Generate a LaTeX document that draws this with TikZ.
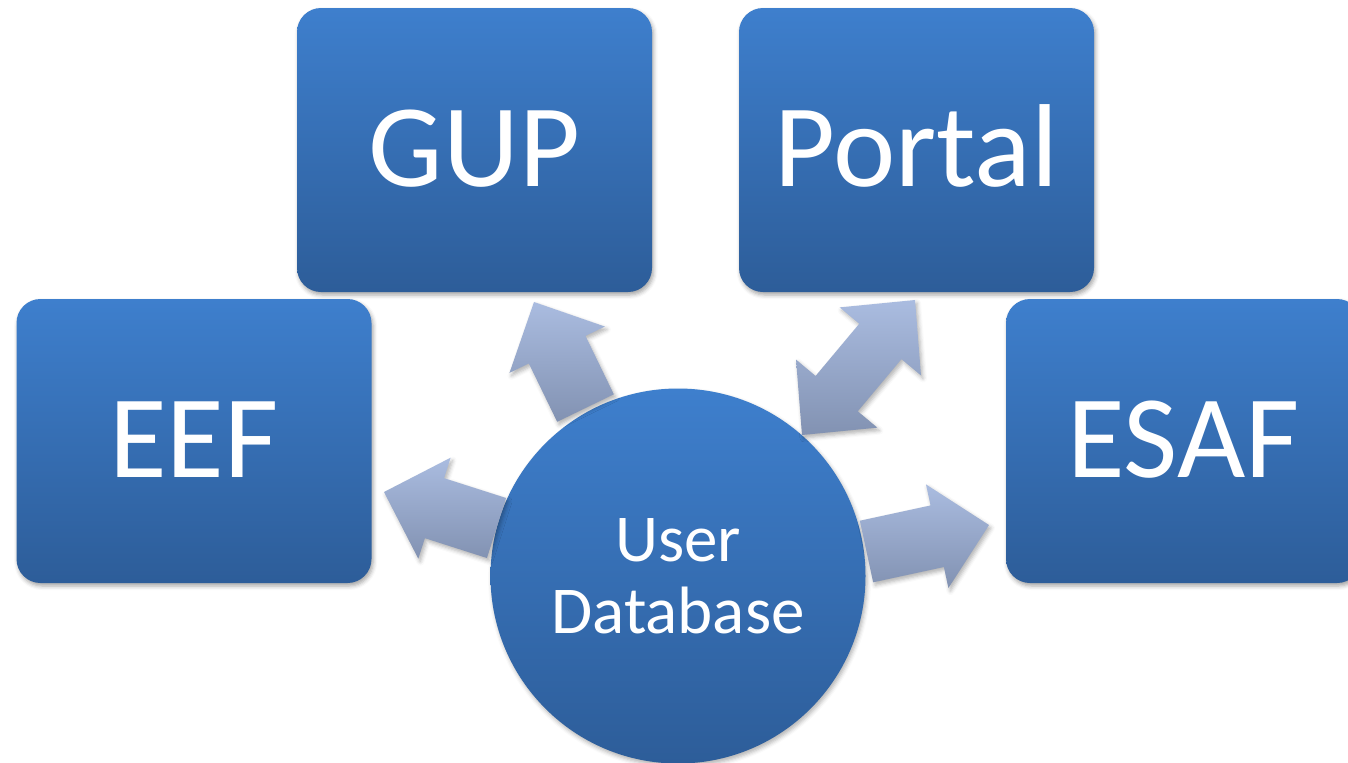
\documentclass[tikz,border=0pt]{standalone}
\usepackage{fontspec}
\setmainfont{Carlito}
\usetikzlibrary{calc,shadows.blur}
\definecolor{boxtop}{RGB}{62,127,205}
\definecolor{boxbot}{RGB}{45,93,153}
\definecolor{arrtop}{RGB}{170,188,224}
\definecolor{arrbot}{RGB}{130,146,178}
\tikzset{
  card/.style={rectangle, rounded corners=12pt, minimum width=177.5pt, minimum height=142pt,
    inner sep=0pt, outer sep=0pt, top color=boxtop, bottom color=boxbot, text=white,
    font=\fontsize{59}{70}\selectfont, text height=36pt, text depth=0pt,
    blur shadow={shadow xshift=0.8pt, shadow yshift=-1.5pt, shadow blur radius=2pt, shadow opacity=35}},
  hub/.style={circle, minimum size=187.5pt, inner sep=0pt, outer sep=0pt,
    top color=boxtop, bottom color=boxbot, text=white, align=center,
    font=\fontsize{33.5}{36}\selectfont,
    blur shadow={shadow xshift=0.8pt, shadow yshift=-1.5pt, shadow blur radius=2pt, shadow opacity=30}},
  blockarrow/.style={top color=arrtop, bottom color=arrbot,
    blur shadow={shadow xshift=1pt, shadow yshift=-1.5pt, shadow blur radius=2pt, shadow opacity=30}}
}
\newcommand{\singlearrow}[3]{%
  \coordinate (#1s) at #2;
  \coordinate (#1t) at #3;
  \coordinate (#1n) at ($(#1t)!26.5pt!(#1s)$);
  \path[blockarrow] ($(#1s)!15.75pt!90:(#1t)$) -- ($(#1n)!15.75pt!90:(#1t)$)
    -- ($(#1n)!26.5pt!90:(#1t)$) -- (#1t) -- ($(#1n)!26.5pt!-90:(#1t)$)
    -- ($(#1n)!15.75pt!-90:(#1t)$) -- ($(#1s)!15.75pt!-90:(#1t)$) -- cycle;
}
\newcommand{\doublearrow}[3]{%
  \coordinate (#1a) at #2;
  \coordinate (#1b) at #3;
  \coordinate (#1na) at ($(#1a)!27pt!(#1b)$);
  \coordinate (#1nb) at ($(#1b)!27pt!(#1a)$);
  \path[blockarrow] (#1a) -- ($(#1na)!26.5pt!90:(#1b)$) -- ($(#1na)!13.75pt!90:(#1b)$)
    -- ($(#1nb)!13.75pt!-90:(#1a)$) -- ($(#1nb)!26.5pt!-90:(#1a)$) -- (#1b)
    -- ($(#1nb)!26.5pt!90:(#1a)$) -- ($(#1nb)!13.75pt!90:(#1a)$)
    -- ($(#1na)!13.75pt!-90:(#1b)$) -- ($(#1na)!26.5pt!-90:(#1b)$) -- cycle;
}
\begin{document}
\begin{tikzpicture}[x=0.5pt, y=-0.5pt]
  \useasboundingbox (0,0) rectangle (1348,762);
  \clip (0,0) rectangle (1348,762);
  \node[card] (gup) at (474.5,150) {GUP};
  \node[card] (portal) at (916.5,150) {Portal};
  \node[card] (eef) at (194,441) {EEF};
  \node[card] (esaf) at (1183.5,441) {ESAF};
  \node[hub] (db) at (678,576) {User\\Database};
  \singlearrow{g}{(585.5,408)}{(534,302)}
  \singlearrow{e}{(496.5,528)}{(384,492)}
  \singlearrow{f}{(866.5,551.5)}{(989,525)}
  \doublearrow{p}{(802,435)}{(915,300)}
\end{tikzpicture}
\end{document}
